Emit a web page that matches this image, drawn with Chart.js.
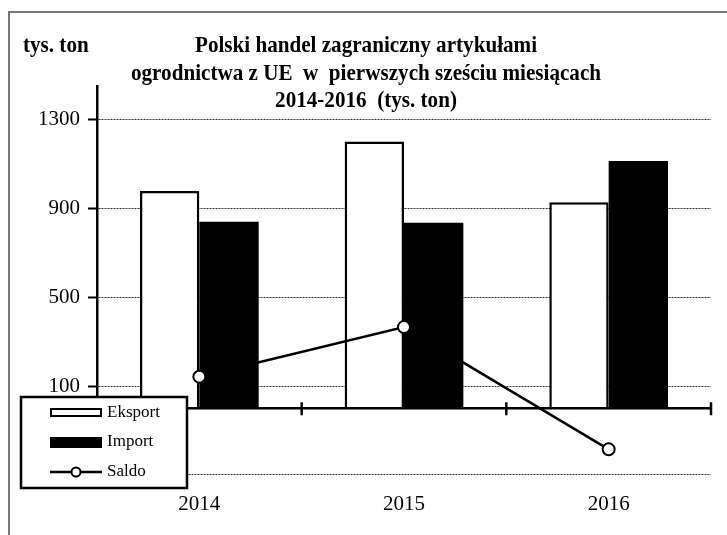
<!DOCTYPE html>
<html>
<head>
<meta charset="utf-8">
<script src="https://cdn.jsdelivr.net/npm/chart.js@4"></script>
<style>
  html, body { margin: 0; padding: 0; background: #fff; }
  #wrap { width: 727px; height: 535px; position: relative; }
</style>
</head>
<body>
<div id="wrap"><canvas id="tradeChart" width="727" height="535"></canvas></div>
<script>
// ─── Data ──────────────────────────────────────────────────────────────────
const years   = ['2014', '2015', '2016'];
const eksport = [978, 1200, 927];
const imports = [839, 835, 1112];
const saldo   = [142, 365, -185];
const yTicks  = [-300, 100, 500, 900, 1300];

const titleLines = [
    'Polski handel zagraniczny artykułami',
    'ogrodnictwa z UE  w  pierwszych sześciu miesiącach',
    '2014-2016  (tys. ton)'
];
const unitLabel = 'tys. ton';

const SERIF = "'Liberation Serif', 'Times New Roman', serif";

// ─── Plugin: frame, title, zero axis with ticks, legend box ───────────────
const decorPlugin = {
    id: 'decor',
    beforeDraw(chart) {
        const ctx = chart.ctx;
        ctx.save();
        ctx.fillStyle = '#fff';
        ctx.fillRect(0, 0, chart.width, chart.height);
        ctx.strokeStyle = '#777';
        ctx.lineWidth = 2;
        ctx.beginPath();
        ctx.moveTo(9, chart.height + 2);
        ctx.lineTo(9, 12);
        ctx.lineTo(chart.width + 2, 12);
        ctx.stroke();

        // title text is a bit condensed in the original
        const sx = 0.88;
        ctx.fillStyle = '#000';
        ctx.font = 'bold 24px ' + SERIF;
        ctx.textBaseline = 'middle';
        ctx.scale(sx, 1);
        ctx.textAlign = 'left';
        ctx.fillText(unitLabel, 23 / sx, 46);
        ctx.textAlign = 'center';
        titleLines.forEach((line, i) => ctx.fillText(line, 366 / sx, 46 + i * 27.5));
        ctx.restore();
    },
    afterDatasetsDraw(chart) {
        // zero line with category boundary ticks
        const ctx = chart.ctx;
        const x = chart.scales.x, y = chart.scales.y;
        const y0 = y.getPixelForValue(0);
        const half = (x.getPixelForValue(1) - x.getPixelForValue(0)) / 2;
        ctx.save();
        ctx.strokeStyle = '#000';
        ctx.lineWidth = 2.5;
        ctx.beginPath();
        ctx.moveTo(chart.chartArea.left, y0);
        ctx.lineTo(chart.chartArea.right, y0);
        for (let i = 0; i < years.length; i++) {
            const bx = x.getPixelForValue(i) + half;
            ctx.moveTo(bx, y0 - 6);
            ctx.lineTo(bx, y0 + 7);
        }
        ctx.stroke();
        ctx.restore();
    },
    afterDraw(chart) {
        // legend box drawn from the dataset styles
        const ctx = chart.ctx;
        const ds = chart.data.datasets;
        ctx.save();
        ctx.fillStyle = '#fff';
        ctx.fillRect(21, 397, 166, 91);
        ctx.strokeStyle = '#000';
        ctx.lineWidth = 2.5;
        ctx.strokeRect(21, 397, 166, 91);

        ctx.font = '17px ' + SERIF;
        ctx.textBaseline = 'middle';
        ctx.textAlign = 'left';

        // Eksport
        ctx.fillStyle = ds[1].backgroundColor;
        ctx.fillRect(51, 409, 50, 7);
        ctx.lineWidth = 2;
        ctx.strokeStyle = ds[1].borderColor;
        ctx.strokeRect(51, 409, 50, 7);
        ctx.fillStyle = '#000';
        ctx.fillText(ds[1].label, 107, 413);

        // Import
        ctx.fillStyle = ds[2].backgroundColor;
        ctx.fillRect(50, 437, 52, 11);
        ctx.fillStyle = '#000';
        ctx.fillText(ds[2].label, 107, 442);

        // Saldo
        ctx.strokeStyle = ds[0].borderColor;
        ctx.lineWidth = 2.5;
        ctx.beginPath();
        ctx.moveTo(50, 472);
        ctx.lineTo(102, 472);
        ctx.stroke();
        ctx.beginPath();
        ctx.arc(76, 472, 4.5, 0, Math.PI * 2);
        ctx.fillStyle = '#fff';
        ctx.fill();
        ctx.lineWidth = 2;
        ctx.stroke();
        ctx.fillStyle = '#000';
        ctx.fillText(ds[0].label, 107, 472);
        ctx.restore();
    }
};

new Chart(document.getElementById('tradeChart'), {
    type: 'bar',
    data: {
        labels: years,
        datasets: [
            {
                type: 'line',
                label: 'Saldo',
                data: saldo,
                order: 0,
                borderColor: '#000',
                borderWidth: 2.5,
                tension: 0,
                pointRadius: 6,
                pointBackgroundColor: '#fff',
                pointBorderColor: '#000',
                pointBorderWidth: 2
            },
            {
                label: 'Eksport',
                data: eksport,
                order: 1,
                backgroundColor: '#fff',
                borderColor: '#000',
                borderWidth: 2.5,
                categoryPercentage: 0.58,
                barPercentage: 1.0
            },
            {
                label: 'Import',
                data: imports,
                order: 1,
                backgroundColor: '#000',
                borderColor: '#000',
                borderWidth: 0,
                categoryPercentage: 0.58,
                barPercentage: 1.0
            }
        ]
    },
    options: {
        responsive: false,
        animation: false,
        devicePixelRatio: 1,
        layout: { padding: { left: 0, top: 86, right: 16, bottom: 0 } },
        plugins: {
            legend:  { display: false },
            title:   { display: false },
            tooltip: { enabled: false }
        },
        scales: {
            x: {
                grid:   { display: false, drawTicks: false },
                border: { display: false },
                ticks:  { color: '#000', font: { family: SERIF, size: 21 }, padding: 6 },
                afterFit(scale) { scale.height = 49; }
            },
            y: {
                min: -350,
                max: 1450,
                afterBuildTicks(scale) { scale.ticks = yTicks.map(v => ({ value: v })); },
                afterFit(scale) { scale.width = 97; },
                grid: {
                    color: '#333',
                    lineWidth: 1,
                    tickColor: '#000',
                    tickWidth: 2,
                    tickLength: 9
                },
                border: { display: true, color: '#000', width: 2.5, dash: [2, 1] },
                ticks: {
                    color: '#000',
                    font: { family: SERIF, size: 21 },
                    padding: 8,
                    callback: v => (v < 0 ? '' : v)
                }
            }
        }
    },
    plugins: [decorPlugin]
});
</script>
</body>
</html>
